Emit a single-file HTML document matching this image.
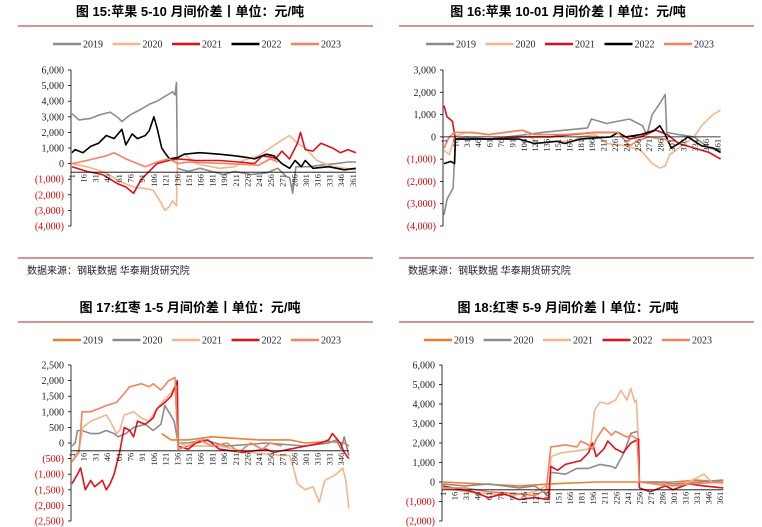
<!DOCTYPE html>
<html><head><meta charset="utf-8">
<style>
body{margin:0;background:#fff;width:762px;height:527px;overflow:hidden}
svg{display:block}
text{font-family:"Liberation Serif","Noto Serif CJK SC",serif}
.t{font-family:"Liberation Sans","Noto Sans CJK SC",sans-serif;font-weight:bold;font-size:13px}
.src{font-family:"Liberation Sans","Noto Sans CJK SC",sans-serif;font-size:10px;fill:#222}
</style></head><body>
<svg id="c" width="762" height="527" xmlns="http://www.w3.org/2000/svg"></svg>
<script>
// ---- Panel 1: 苹果 5-10 ----
const p1Years=["2019","2020","2021","2022","2023"];
const p1_2019_d=[1,10,25,35,50,60,65,75,90,100,110,120,130,133,135,136,150,165,180,195,210,230,250,265,275,280,284,288,305,320,340,355,365];
const p1_2019_v=[3200,2800,2900,3100,3300,2950,2700,3100,3500,3800,4000,4300,4600,4400,5200,-300,-500,-300,-500,-700,-500,-700,-600,-300,-800,-900,-1900,-200,-200,-100,0,100,100];
const p1_2020_d=[1,20,40,55,65,80,95,105,115,120,125,130,135,136,145,160,190,210,220,240,255,270,280,290,300,315,335,365];
const p1_2020_v=[0,-200,-500,-900,-1200,-1500,-1600,-1700,-2500,-3000,-2800,-2400,-2700,400,600,0,-300,-200,200,500,1000,1500,1800,1300,1000,200,-200,-400];
const p1_2021_d=[1,20,40,50,60,70,80,90,100,110,125,137,160,190,215,235,245,258,262,270,280,290,294,300,310,320,335,345,355,365];
const p1_2021_v=[-200,-500,-700,-1000,-1300,-1500,-1900,-1000,-500,0,200,300,200,200,100,0,500,400,300,800,300,1300,2000,900,800,1300,1000,700,900,700];
const p1_2022_d=[1,5,15,25,35,45,55,65,70,78,85,95,100,106,110,116,120,126,137,145,165,190,210,225,235,250,260,270,280,287,295,300,310,330,350,365];
const p1_2022_v=[700,900,700,1100,1300,1800,1600,2200,1200,1900,1600,1800,2100,3000,2300,1000,700,300,400,600,700,600,500,400,300,600,500,0,-300,200,-200,200,-300,-200,-400,-300];
const p1_2023_d=[1,20,45,55,70,85,95,110,125,137,150,200,240,255,265];
const p1_2023_v=[0,200,500,700,300,0,-200,100,300,0,100,0,-100,300,100];

// ---- Panel 2: 苹果 10-01 ----
const p2_2019_d=[1,5,13,16,30,60,110,130,160,190,195,215,245,262,268,275,285,292,294,310,330,350,365];
const p2_2019_v=[-3500,-2800,-2300,-100,0,-100,100,200,300,400,800,600,800,500,100,1000,1500,1900,200,100,0,-500,-600];
const p2_2020_d=[1,8,15,30,60,105,125,140,170,180,200,215,240,260,265,275,285,292,298,310,330,340,355,365];
const p2_2020_v=[-600,-800,0,200,100,300,-300,-200,-200,0,100,-300,-400,-600,-800,-1200,-1400,-1300,-800,-500,0,500,1000,1200];
const p2_2021_d=[1,5,12,16,60,100,140,170,200,230,245,260,280,295,310,330,350,365];
const p2_2021_v=[1400,900,700,-100,-100,0,0,100,200,200,-100,0,300,100,-300,-500,-700,-1000];
const p2_2022_d=[1,10,15,16,50,100,120,150,160,180,220,230,240,260,278,285,292,300,310,322,340,355,365];
const p2_2022_v=[-1200,-1100,-1200,-100,-100,-100,-300,-200,-300,-100,0,200,0,100,300,500,100,-500,-300,0,-400,-500,-700];
const p2_2023_d=[1,8,15,40,60,80,105,120,160,200,230,245,255,270,290,300];
const p2_2023_v=[-500,0,200,200,100,200,300,100,100,200,200,-400,-200,0,-100,-200];

// ---- Panel 3: 红枣 1-5 ----
const p3_2019_d=[116,122,128,150,180,240,280,300,330,350,356];
const p3_2019_v=[300,200,100,100,200,100,100,0,50,0,-100];
const p3_2020_d=[1,5,8,14,25,35,45,55,60,70,80,95,105,115,120,125,132,137,150,170,200,250,300,330,340,346,350,356];
const p3_2020_v=[-100,0,400,400,300,300,400,300,200,300,500,600,400,600,1200,1000,700,0,0,100,-100,0,-100,0,100,-200,200,-400];
const p3_2021_d=[1,10,15,25,35,45,50,58,62,68,80,90,100,110,120,128,133,137,150,190,230,270,280,285,290,300,310,318,325,340,348,352,356];
const p3_2021_v=[-600,-200,500,700,800,900,700,300,400,900,1000,800,700,1100,1400,1600,1800,0,-100,-100,-300,-400,-400,-800,-1300,-1500,-1400,-1900,-1200,-1000,-800,-1200,-2100];
const p3_2022_d=[1,8,12,18,25,30,40,45,50,55,60,62,68,75,80,85,95,100,105,110,120,128,133,136,137,150,160,175,190,220,250,260,280,300,320,330,335,345,350,356];
const p3_2022_v=[-1300,-1000,-800,-1500,-1200,-1400,-1200,-1500,-1300,-1000,-500,-300,500,400,200,700,600,700,800,1100,1300,1500,1800,2000,-100,-200,0,100,-200,-300,-200,-300,-200,-100,0,100,300,0,-300,-500];
const p3_2023_d=[1,10,14,25,35,45,58,65,75,90,100,105,115,125,133,137,150,165,180,200,215,230,245,255,270];
const p3_2023_v=[-600,-300,1000,1000,1100,1200,1300,1500,1800,1900,1800,1900,1700,2000,2100,-200,-100,100,-100,0,-300,0,-200,0,-100];

// ---- Panel 4: 红枣 5-9 ----
const p4_2019_d=[1,50,100,140,200,300,330,365];
const p4_2019_v=[0,-100,-200,-100,0,0,100,0];
const p4_2020_d=[1,30,60,100,120,135,140,141,160,175,190,205,220,225,236,245,254,256,280,300,330,365];
const p4_2020_v=[-100,-200,-100,-300,-200,-600,-400,500,400,700,700,900,800,700,1500,2500,2600,0,0,-100,0,100];
const p4_2021_d=[1,30,60,90,120,135,140,141,155,175,190,193,198,205,215,225,232,240,245,250,252,255,256,290,300,320,340,350,365];
const p4_2021_v=[-300,-500,-600,-700,-500,-200,-800,1300,1500,1600,1700,2000,3700,4100,4000,4200,4700,4200,4800,4100,4200,2000,0,-200,-400,0,400,0,-100];
const p4_2022_d=[1,40,60,80,100,120,138,141,150,160,170,180,190,195,200,210,215,225,235,245,255,256,270,290,300,320,340,365];
const p4_2022_v=[-200,-500,-800,-600,-900,-800,-900,800,600,900,1000,1100,1500,2000,1300,1700,2100,1700,1500,2000,2200,-300,-500,-200,-400,-100,-200,-300];
const p4_2023_d=[1,30,60,100,120,135,141,160,175,180,190,195,200,210,220,225,240,245,253,256,280,300,320,365];
const p4_2023_v=[-300,-300,-500,-600,-700,-400,1800,1900,1800,2100,1900,1700,2200,2800,2400,2600,2300,2400,2200,0,-100,-200,-100,0];

const yt1=[6000,5000,4000,3000,2000,1000,0,-1000,-2000,-3000,-4000];
const yt2=[3000,2000,1000,0,-1000,-2000,-3000,-4000];
const yt3=[2500,2000,1500,1000,500,0,-500,-1000,-1500,-2000,-2500];
const yt4=[6000,5000,4000,3000,2000,1000,0,-1000,-2000];

const svg=document.getElementById('c');
const NS='http://www.w3.org/2000/svg';
function mk(tag,attrs,parent,text){const e=document.createElementNS(NS,tag);for(const k in attrs)e.setAttribute(k,attrs[k]);if(text!==undefined)e.textContent=text;(parent||svg).appendChild(e);return e;}
function fmt(v){const s=Math.abs(v).toLocaleString('en-US');return v<0?'('+s+')':s;}

const C={gray:'#8c8c8c',lo:'#f5b48a',red:'#e0101a',blk:'#000',sal:'#f3835f',org:'#ee7d31'};

function panel(cfg){
  const g=mk('g',{});
  
  
  const tt=mk('text',{x:cfg.ox+cfg.tcx,y:cfg.ty,'text-anchor':'middle',class:'t',fill:'#000'},g,cfg.title);
  
  
  const r=mk('line',{x1:cfg.ox+18,x2:cfg.ox+373,y1:cfg.ty+10,y2:cfg.ty+10,stroke:'#c0504d','stroke-width':1.3},g);
  
  
  // legend
  cfg.series.forEach((s,i)=>{
    const lx=cfg.ox+cfg.lx+i*59.5, ly=cfg.ty+28;
    const lg=mk('g',{},g);
    
    
    mk('line',{x1:lx,x2:lx+28,y1:ly,y2:ly,stroke:s.c,'stroke-width':2.6},lg);
    mk('text',{x:lx+30,y:ly+3.5,'font-size':10,fill:'#222'},lg,s.label);
  });
  const y0=cfg.ytop, yT=cfg.yt, step=(cfg.ybot-cfg.ytop)/(yT.length-1);
  const vmax=yT[0], vmin=yT[yT.length-1];
  const Y=v=>y0+(vmax-v)/(vmax-vmin)*(cfg.ybot-cfg.ytop);
  const X=d=>cfg.ox+cfg.ax+1+(d-1)*cfg.kx;
  const ax=cfg.ox+cfg.ax;
  const axg=mk('g',{},g);
  
  
  mk('line',{x1:ax,x2:ax,y1:y0,y2:cfg.ybot,stroke:'#000','stroke-width':0.8},axg);
  yT.forEach(v=>{
    const y=Y(v);
    mk('line',{x1:ax-3,x2:ax,y1:y,y2:y,stroke:'#000','stroke-width':0.8},axg);
    mk('text',{x:ax-7,y:y+3.5,'text-anchor':'end','font-size':10,fill:v<0?'#e00000':'#1a1a2e'},axg,fmt(v));
  });
  // series
  cfg.series.forEach(s=>{
    let d='';
    s.d.forEach((dd,i)=>{d+=(i?'L':'M')+X(dd).toFixed(1)+' '+Y(s.v[i]).toFixed(1);});
    const p=mk('path',{d:d,fill:'none',stroke:s.c,'stroke-width':1.6,'stroke-linejoin':'round'},g);
    
    
  });
  // x axis
  const xg=mk('g',{},g);
  
  
  const xy=Y(cfg.xv);
  mk('line',{x1:ax,x2:X(cfg.dmax),y1:xy,y2:xy,stroke:'#000','stroke-width':0.8},xg);
  for(let d=1;d<=cfg.dmax;d+=15){
    const x=X(d);
    mk('text',{x:0,y:0,'text-anchor':'end','font-size':8.5,fill:'#222',transform:`translate(${x+3},${xy+2}) rotate(-90)`},xg,String(d));
  }
  if(cfg.src){
    mk('line',{x1:cfg.ox+18,x2:cfg.ox+373,y1:258,y2:258,stroke:'#c0504d','stroke-width':1.3},g);
    const st=mk('text',{x:cfg.ox+27,y:274,class:'src'},g,'数据来源：钢联数据  华泰期货研究院');
    
    
  }
}

panel({name:'panel-apple-5-10',ox:0,tcx:190,ty:16,title:'图 15:苹果 5-10 月间价差丨单位：元/吨',lx:53,ax:71,ytop:70,ybot:226,yt:yt1,kx:0.78,dmax:365,xv:-550,src:true,
 series:[{label:p1Years[0],c:C.gray,d:p1_2019_d,v:p1_2019_v},{label:p1Years[1],c:C.lo,d:p1_2020_d,v:p1_2020_v},{label:p1Years[2],c:C.red,d:p1_2021_d,v:p1_2021_v},{label:p1Years[3],c:C.blk,d:p1_2022_d,v:p1_2022_v},{label:p1Years[4],c:C.sal,d:p1_2023_d,v:p1_2023_v}]});
panel({name:'panel-apple-10-01',ox:381,tcx:187,ty:16,title:'图 16:苹果 10-01 月间价差丨单位：元/吨',lx:45,ax:62,ytop:70,ybot:226,yt:yt2,kx:0.76,dmax:365,xv:0,src:true,
 series:[{label:'2019',c:C.gray,d:p2_2019_d,v:p2_2019_v},{label:'2020',c:C.lo,d:p2_2020_d,v:p2_2020_v},{label:'2021',c:C.red,d:p2_2021_d,v:p2_2021_v},{label:'2022',c:C.blk,d:p2_2022_d,v:p2_2022_v},{label:'2023',c:C.sal,d:p2_2023_d,v:p2_2023_v}]});
panel({name:'panel-jujube-1-5',ox:0,tcx:190,ty:312,title:'图 17:红枣 1-5 月间价差丨单位：元/吨',lx:53,ax:71,ytop:365,ybot:521,yt:yt3,kx:0.78,dmax:356,xv:-250,src:false,
 series:[{label:'2019',c:C.org,d:p3_2019_d,v:p3_2019_v},{label:'2020',c:C.gray,d:p3_2020_d,v:p3_2020_v},{label:'2021',c:C.lo,d:p3_2021_d,v:p3_2021_v},{label:'2022',c:C.red,d:p3_2022_d,v:p3_2022_v},{label:'2023',c:C.sal,d:p3_2023_d,v:p3_2023_v}]});
panel({name:'panel-jujube-5-9',ox:381,tcx:187,ty:312,title:'图 18:红枣 5-9 月间价差丨单位：元/吨',lx:43,ax:61,ytop:365,ybot:521,yt:yt4,kx:0.77,dmax:365,xv:-400,src:false,
 series:[{label:'2019',c:C.org,d:p4_2019_d,v:p4_2019_v},{label:'2020',c:C.gray,d:p4_2020_d,v:p4_2020_v},{label:'2021',c:C.lo,d:p4_2021_d,v:p4_2021_v},{label:'2022',c:C.red,d:p4_2022_d,v:p4_2022_v},{label:'2023',c:C.sal,d:p4_2023_d,v:p4_2023_v}]});
</script>
</body></html>
